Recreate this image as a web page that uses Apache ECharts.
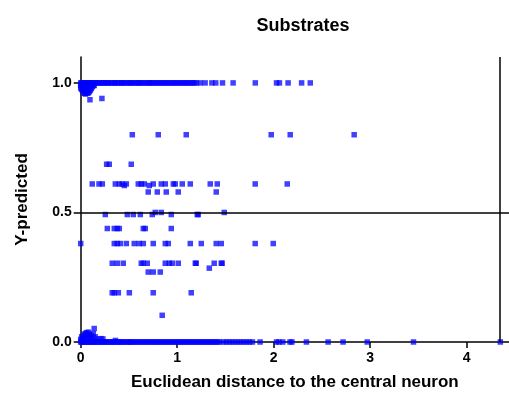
<!DOCTYPE html>
<html>
<head>
<meta charset="utf-8">
<script src="https://cdn.jsdelivr.net/npm/echarts@6/dist/echarts.min.js"></script>
<style>html,body{margin:0;padding:0;background:#fff;overflow:hidden}#c{width:509px;height:396px}</style>
</head>
<body>
<div id="c"></div>
<script>
// Tick labels
const xTicks = [0, 1, 2, 3, 4];
const yTicks = [0, 0.5, 1.0];

// Points with Y-predicted ~ 1.0 (x = Euclidean distance)
const topRowX = [0.00,0.01,0.02,0.04,0.05,0.06,0.08,0.09,0.10,0.12,0.13,0.15,0.16,0.18,0.19,0.21,0.23,0.24,0.26,0.28,0.29,0.31,0.33,0.35,0.36,0.38,0.40,0.42,0.43,0.45,0.47,0.49,0.51,0.52,0.54,0.56,0.58,0.60,0.61,0.63,0.65,0.67,0.69,0.71,0.72,0.74,0.76,0.78,0.80,0.82,0.84,0.86,0.88,0.90,0.92,0.94,0.96,0.98,1.00,1.02,1.04,1.06,1.08,1.10,1.12,1.14,1.16,1.18,1.20,1.24,1.29,1.36,1.40,1.47,1.58,1.81,2.03,2.06,2.15,2.29,2.38];

// Points with Y-predicted ~ 0.0
const bottomRowX = [0.00,0.01,0.03,0.04,0.05,0.07,0.08,0.10,0.11,0.13,0.14,0.16,0.17,0.19,0.21,0.22,0.24,0.26,0.27,0.29,0.31,0.33,0.34,0.36,0.38,0.40,0.41,0.43,0.45,0.47,0.49,0.51,0.52,0.54,0.56,0.58,0.60,0.62,0.64,0.66,0.68,0.70,0.72,0.74,0.76,0.78,0.80,0.82,0.84,0.86,0.88,0.90,0.92,0.94,0.96,0.98,1.00,1.02,1.04,1.06,1.08,1.10,1.12,1.14,1.16,1.18,1.20,1.22,1.24,1.26,1.28,1.30,1.32,1.34,1.36,1.38,1.40,1.42,1.44,1.48,1.51,1.54,1.57,1.60,1.63,1.66,1.69,1.72,1.75,1.78,1.86,2.03,2.055,2.095,2.17,2.19,2.34,2.565,2.72,2.97,3.45,4.35];

// Cluster just below 1.0
const nearTop = [[0.00,0.99],[0.00,0.98],[0.01,0.975],[0.01,0.99],[0.02,0.985],[0.02,0.97],[0.03,0.962],[0.03,0.978],[0.04,0.975],[0.04,0.96],[0.05,0.957],[0.05,0.97],[0.05,0.985],[0.06,0.965],[0.06,0.978],[0.07,0.96],[0.07,0.972],[0.08,0.962],[0.08,0.976],[0.09,0.966],[0.09,0.98],[0.10,0.972],[0.10,0.985],[0.11,0.978],[0.12,0.985],[0.13,0.99],[0.14,0.99],[0.096,0.935],[0.22,0.94]];

// Cluster just above 0.0
const nearBottom = [[0.00,0.01],[0.01,0.02],[0.02,0.012],[0.03,0.025],[0.04,0.012],[0.04,0.03],[0.05,0.033],[0.06,0.02],[0.062,0.036],[0.07,0.028],[0.08,0.02],[0.08,0.038],[0.09,0.03],[0.10,0.015],[0.11,0.025],[0.12,0.01],[0.13,0.032],[0.14,0.052],[0.15,0.02],[0.17,0.012],[0.21,0.013],[0.23,0.012],[0.36,0.006]];

// Intermediate predictions
const middle = [
  [0.535,0.80],[0.804,0.80],[1.094,0.80],[1.975,0.80],[2.172,0.80],[2.835,0.80],
  [0.269,0.686],[0.296,0.686],[0.524,0.686],
  [0.120,0.61],[0.190,0.61],[0.224,0.61],[0.359,0.61],[0.400,0.61],[0.431,0.61],[0.473,0.61],[0.597,0.61],[0.628,0.61],[0.659,0.61],[0.752,0.61],[0.835,0.61],[0.877,0.61],[0.960,0.61],[0.980,0.61],[1.053,0.61],[1.136,0.61],[1.343,0.61],[1.416,0.61],[1.809,0.61],[2.141,0.61],
  [0.452,0.604],[0.711,0.604],
  [0.700,0.579],[0.794,0.579],[0.887,0.579],[1.011,0.579],[1.405,0.579],
  [0.773,0.50],[0.835,0.50],[1.488,0.50],
  [0.255,0.492],[0.483,0.492],[0.545,0.492],[0.618,0.492],[0.742,0.492],[0.939,0.492],[1.208,0.492],[1.219,0.492],
  [0.276,0.438],[0.348,0.438],[0.379,0.438],[0.400,0.438],[0.649,0.438],[0.669,0.438],[0.939,0.438],
  [0.000,0.38],[0.348,0.38],[0.379,0.38],[0.410,0.38],[0.473,0.38],[0.555,0.38],[0.607,0.38],[0.649,0.38],[0.752,0.38],[0.877,0.38],[0.908,0.38],[1.136,0.38],[1.250,0.38],[1.405,0.38],[1.457,0.38],[1.809,0.38],[1.996,0.38],
  [0.327,0.304],[0.379,0.304],[0.441,0.304],[0.628,0.304],[0.649,0.304],[0.690,0.304],[0.877,0.304],[0.918,0.304],[0.949,0.304],[1.011,0.304],[1.188,0.304],[1.198,0.304],[1.384,0.304],[1.457,0.304],[1.467,0.304],
  [1.333,0.285],
  [0.700,0.27],[0.752,0.27],[0.825,0.27],
  [0.327,0.19],[0.348,0.19],[0.390,0.19],[0.504,0.19],[0.752,0.19],[1.146,0.19],
  [0.845,0.103]
];

const refY = 0.5;
const refX = 4.345;

const data = []
  .concat(topRowX.map(x => [x, 1.0]))
  .concat(nearTop)
  .concat(middle)
  .concat(nearBottom)
  .concat(bottomRowX.map(x => [x, 0.0]));

const chart = echarts.init(document.getElementById('c'), null, {renderer: 'canvas'});
const font = 'Arial, "Liberation Sans", sans-serif';
chart.setOption({
  animation: false,
  backgroundColor: '#fff',
  title: {
    text: 'Substrates', left: 298, top: 12, textAlign: 'center',
    textStyle: {fontFamily: font, fontSize: 18, fontWeight: 'bold', color: '#000'}
  },
  grid: {left: 80.7, right: 0, top: 57, bottom: 51, containLabel: false},
  xAxis: {
    type: 'value', min: 0, max: 4.44,
    name: 'Euclidean distance to the central neuron', nameLocation: 'middle', nameGap: 32,
    nameTextStyle: {fontFamily: font, fontSize: 17, fontWeight: 'bold', color: '#000'},
    axisLine: {show: true, lineStyle: {color: '#000', width: 1.5}},
    axisTick: {show: true, length: 6, customValues: xTicks, lineStyle: {color: '#000', width: 1.5}},
    axisLabel: {customValues: xTicks, margin: 9, fontFamily: font, fontSize: 14, fontWeight: 'bold', color: '#000',
      formatter: v => String(v)},
    splitLine: {show: false}
  },
  yAxis: {
    type: 'value', min: 0, max: 1.1,
    name: 'Y-predicted', nameLocation: 'middle', nameGap: 50, nameRotate: 90,
    nameTextStyle: {fontFamily: font, fontSize: 17, fontWeight: 'bold', color: '#000'},
    axisLine: {show: true, onZero: false, lineStyle: {color: '#000', width: 1.5}},
    axisTick: {show: true, length: 7, customValues: yTicks, lineStyle: {color: '#000', width: 1.5}},
    axisLabel: {customValues: yTicks, margin: 9, fontFamily: font, fontSize: 14, fontWeight: 'bold', color: '#000',
      formatter: v => v.toFixed(1)},
    splitLine: {show: false}
  },
  series: [{
    type: 'scatter',
    symbol: 'rect',
    symbolSize: 5.5,
    itemStyle: {color: '#0000ff', opacity: 0.75},
    data: data,
    markLine: {
      silent: true, symbol: 'none', label: {show: false},
      lineStyle: {color: '#000', width: 1.5, type: 'solid'},
      data: [{yAxis: refY}, {xAxis: refX}]
    },
    z: 3
  }]
});
</script>
</body>
</html>
